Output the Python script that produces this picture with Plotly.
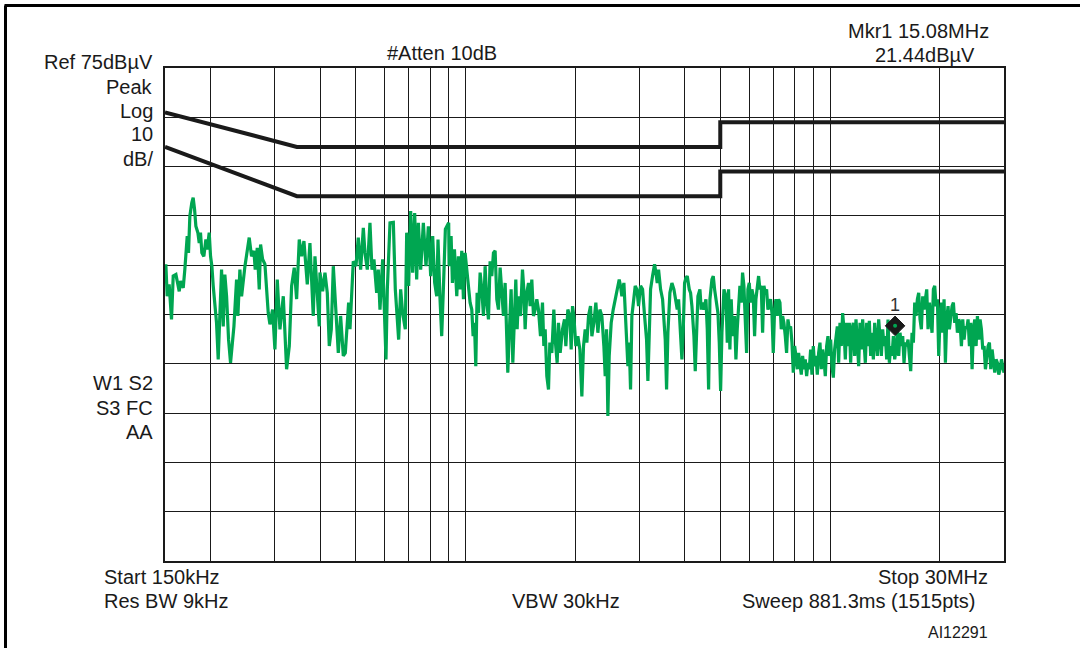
import plotly.graph_objects as go

# ---------------- data ----------------
freq_low = [0.1508, 0.1521, 0.1540, 0.1563, 0.1580, 0.1607, 0.1630, 0.1641, 0.1655, 0.1683,
            0.1700, 0.1711, 0.1726, 0.1740, 0.1755, 0.1777, 0.1792, 0.1808, 0.1823, 0.1846,
            0.1862, 0.1877, 0.1893, 0.1917, 0.1942, 0.1958, 0.1983, 0.2000, 0.2017, 0.2034,
            0.2055, 0.2077, 0.2099, 0.2144, 0.2167, 0.2189, 0.2213, 0.2241, 0.2269, 0.2289,
            0.2318, 0.2357, 0.2377, 0.2407, 0.2433, 0.2485, 0.2521, 0.2553, 0.2591, 0.2630,
            0.2652, 0.2686, 0.2720, 0.2743, 0.2778, 0.2819, 0.2879, 0.2910, 0.2959, 0.3003,
            0.3048, 0.3100, 0.3166, 0.3213, 0.3233, 0.3288, 0.3337, 0.3393, 0.3444, 0.3502,
            0.3554, 0.3607, 0.3645, 0.3684, 0.3746, 0.3786, 0.3826, 0.3867, 0.3974, 0.3991,
            0.4059, 0.4119, 0.4180, 0.4233, 0.4287, 0.4342, 0.4415, 0.4481, 0.4547, 0.4625,
            0.4684, 0.4783, 0.4824, 0.4885, 0.4926, 0.5010, 0.5084, 0.5160, 0.5248, 0.5303,
            0.5382, 0.5473, 0.5543, 0.5613, 0.5709, 0.5769, 0.5830, 0.5930, 0.6056, 0.6107,
            0.6211, 0.6343, 0.6423, 0.6560, 0.6644, 0.6728, 0.6842, 0.6901, 0.6988, 0.7077,
            0.7167, 0.7258, 0.7351, 0.7429, 0.7539, 0.7667, 0.7797, 0.7913, 0.8031, 0.8133,
            0.8237, 0.8341, 0.8411, 0.8519, 0.8609, 0.8700, 0.8811, 0.8998]
level_low = [35.2, 28.7, 31.1, 24.0, 32.8, 33.1, 30.8, 29.7, 31.8, 30.4,
             34.1, 37.2, 40.9, 37.5, 45.0, 47.7, 48.7, 46.3, 42.9, 41.6,
             39.5, 41.6, 37.5, 36.8, 40.2, 38.2, 41.6, 36.8, 34.8, 30.8,
             26.0, 23.3, 15.9, 34.1, 22.6, 33.1, 28.7, 19.9, 15.2, 18.6,
             22.6, 32.1, 24.7, 34.1, 28.7, 34.8, 38.5, 40.6, 36.8, 37.9,
             34.1, 38.5, 30.1, 39.2, 36.2, 35.2, 25.3, 23.0, 26.0, 17.9,
             32.1, 22.0, 28.7, 19.9, 13.9, 18.6, 30.8, 34.5, 28.1, 40.2,
             36.8, 39.9, 35.5, 31.1, 39.5, 30.1, 24.7, 36.8, 22.6, 33.5,
             29.7, 33.5, 29.4, 18.6, 22.0, 34.8, 24.7, 17.2, 24.7, 16.6,
             17.2, 27.4, 22.0, 31.4, 35.8, 34.8, 40.6, 34.1, 42.6, 37.5,
             34.1, 43.6, 34.1, 36.2, 29.4, 34.1, 26.0, 36.2, 15.9, 30.1,
             43.6, 43.7, 30.1, 19.9, 30.1, 25.3, 22.0, 41.6, 30.8, 46.0,
             33.5, 45.6, 32.1, 43.6, 34.1, 43.6, 34.8, 42.9, 32.8, 40.9,
             31.4, 28.7, 40.2, 28.1, 20.6, 30.1, 42.3, 43.6]

freq_mid = [0.9021, 0.9136, 0.9213, 0.9331, 0.9469, 0.9569, 0.9670, 0.9773, 0.9876, 0.9981,
            1.0108, 1.0193, 1.0301, 1.0410, 1.0498, 1.0588, 1.0677, 1.0767, 1.0858, 1.0974,
            1.1090, 1.1207, 1.1326, 1.1445, 1.1567, 1.1688, 1.1813, 1.1938, 1.2064, 1.2192,
            1.2321, 1.2451, 1.2584, 1.2716, 1.2851, 1.2987, 1.3070, 1.3180, 1.3347, 1.3489,
            1.3632, 1.3747, 1.3864, 1.3981, 1.4159, 1.4339, 1.4461, 1.4582, 1.4736, 1.4893,
            1.5051, 1.5209, 1.5371, 1.5534, 1.5698, 1.5864, 1.6066, 1.6270, 1.6408, 1.6547,
            1.6721, 1.6900, 1.7042, 1.7259, 1.7478, 1.7627, 1.7850, 1.8001, 1.8193, 1.8463,
            1.8697, 1.8856, 1.9095, 1.9337, 1.9502, 1.9667, 1.9833, 2.0087, 2.0342, 2.0599,
            2.0862, 2.1082, 2.1305, 2.1532, 2.1759, 2.2035, 2.2223, 2.2505, 2.2790, 2.3081,
            2.3374, 2.3670, 2.3973, 2.4175, 2.4379, 2.4587, 2.4794, 2.5109, 2.5429, 2.5752,
            2.6078, 2.6412, 2.6634, 2.6859, 2.7203, 2.7432, 2.7663, 2.7899, 2.8135, 2.8372,
            2.8612, 2.8916, 2.9222, 2.9531, 2.9842, 3.0224, 3.0607, 3.0998, 3.1391, 3.1656,
            3.1923, 3.2196, 3.2603, 3.3018, 3.3299, 3.3580, 3.3863, 3.4296, 3.4731, 3.5024,
            3.5320, 3.5621, 3.5921, 3.6377, 3.6842, 3.7309, 3.7623, 3.8104, 3.8425, 3.8750,
            3.9245, 3.9577, 3.9910, 4.0246, 4.0589, 4.1104, 4.1450, 4.1804, 4.2334, 4.2692,
            4.3052, 4.3419, 4.3970, 4.4341, 4.4715, 4.5097, 4.5670, 4.6054, 4.6448, 4.6839,
            4.7432, 4.7837, 4.8240, 4.8650, 4.9266, 4.9686, 5.0105, 5.0529, 5.1173, 5.1822,
            5.2260]
level_mid = [34.8, 40.9, 31.4, 38.2, 28.7, 36.8, 30.1, 37.9, 28.1, 37.5,
             33.5, 30.1, 27.4, 26.0, 20.6, 23.3, 14.5, 29.4, 25.3, 33.5,
             30.1, 24.7, 34.8, 27.4, 24.0, 35.8, 32.8, 37.5, 37.9, 28.1,
             26.0, 34.5, 30.1, 24.7, 31.4, 21.3, 13.2, 20.6, 30.1, 15.2,
             26.7, 32.1, 22.0, 28.7, 24.7, 34.1, 30.1, 22.0, 29.4, 31.4,
             26.7, 32.1, 24.7, 26.0, 28.1, 26.0, 20.6, 27.4, 18.6, 22.0,
             12.5, 9.8, 19.3, 17.2, 26.0, 19.9, 15.2, 23.3, 17.2, 22.0,
             24.0, 18.6, 26.0, 24.7, 17.9, 26.7, 24.7, 18.6, 20.6, 17.9,
             8.4, 18.6, 22.0, 19.3, 24.7, 26.7, 20.6, 23.3, 27.4, 21.3,
             26.0, 24.7, 18.6, 12.5, 22.0, 4.4, 16.6, 23.3, 26.0, 28.1,
             30.1, 32.1, 30.8, 28.7, 31.4, 26.7, 22.0, 14.5, 19.3, 9.8,
             24.7, 28.1, 30.8, 30.1, 26.7, 30.8, 30.1, 24.7, 19.9, 11.5,
             22.0, 30.1, 32.8, 35.2, 33.5, 31.4, 34.1, 30.1, 28.1, 23.3,
             19.9, 9.8, 21.3, 29.4, 31.4, 30.1, 28.7, 26.0, 28.1, 22.6,
             15.9, 22.0, 31.4, 32.4, 32.8, 30.1, 29.4, 26.7, 20.6, 13.5,
             23.3, 28.7, 30.1, 26.0, 27.4, 26.0, 28.1, 22.0, 9.8, 28.1,
             32.1, 32.8, 30.1, 28.1, 25.3, 19.3, 9.5, 21.3, 30.1, 28.7,
             19.3]

freq_high = [5.269, 5.313, 5.358, 5.404, 5.472, 5.519, 5.565, 5.612, 5.660, 5.708,
             5.756, 5.805, 5.854, 5.904, 5.953, 6.004, 6.055, 6.106, 6.158, 6.210,
             6.262, 6.315, 6.369, 6.423, 6.477, 6.532, 6.587, 6.643, 6.699, 6.756,
             6.813, 6.870, 6.929, 6.987, 7.046, 7.106, 7.166, 7.227, 7.288, 7.350,
             7.412, 7.474, 7.538, 7.601, 7.666, 7.731, 7.796, 7.862, 7.929, 7.996,
             8.063, 8.132, 8.200, 8.270, 8.340, 8.410, 8.482, 8.553, 8.626, 8.699,
             8.772, 8.847, 8.921, 8.997, 9.073, 9.150, 9.227, 9.305, 9.384, 9.463,
             9.543, 9.624, 9.706, 9.788, 9.871, 9.954, 10.038, 10.123, 10.209, 10.295,
             10.383, 10.470, 10.559, 10.648, 10.738, 10.829, 10.921, 11.013, 11.106, 11.200,
             11.295, 11.391, 11.487, 11.584, 11.682, 11.781, 11.881, 11.981, 12.083, 12.185,
             12.288, 12.392, 12.497, 12.603, 12.709, 12.817, 12.925, 13.035, 13.145, 13.256,
             13.369, 13.482, 13.596, 13.711, 13.827, 13.944, 14.062, 14.181, 14.301, 14.422,
             14.544, 14.667, 14.791, 14.916, 15.042, 15.170, 15.298, 15.428, 15.558, 15.690,
             15.823, 15.957, 16.092, 16.228, 16.365, 16.503, 16.643, 16.784, 16.926, 17.069,
             17.214, 17.359, 17.506, 17.654, 17.804, 17.954, 18.106, 18.260, 18.414, 18.570,
             18.727, 18.885, 19.045, 19.207, 19.369, 19.533, 19.698, 19.865, 20.033, 20.202,
             20.373, 20.546, 20.720, 20.895, 21.072, 21.250, 21.430, 21.611, 21.794, 21.978,
             22.164, 22.352, 22.541, 22.732, 22.924, 23.118, 23.314, 23.511, 23.710, 23.911,
             24.113, 24.317, 24.523, 24.730, 24.940, 25.151, 25.364, 25.578, 25.795, 26.013,
             26.233, 26.455, 26.679, 26.905, 27.132, 27.362, 27.593, 27.827, 28.062, 28.300,
             28.539, 28.781, 29.024, 29.270, 29.518, 30.000]
level_high = [30.1, 17.9, 28.1, 20.6, 24.7, 15.9, 22.0, 28.1, 30.8, 27.4,
              33.5, 30.8, 24.7, 17.2, 30.1, 31.4, 27.4, 30.1, 28.7, 20.6,
              28.1, 31.4, 32.8, 30.1, 30.8, 21.3, 30.8, 29.4, 30.1, 26.0,
              27.4, 28.1, 25.3, 17.2, 26.0, 28.1, 24.7, 28.1, 27.4, 22.0,
              24.7, 23.3, 20.6, 17.2, 24.0, 22.0, 22.6, 19.3, 13.2, 18.6,
              16.6, 13.9, 17.2, 15.2, 12.8, 16.6, 13.9, 15.9, 12.5, 15.2,
              13.9, 17.9, 12.8, 18.6, 14.5, 16.6, 12.8, 17.2, 19.3, 13.9,
              17.9, 15.9, 12.5, 18.6, 20.6, 16.6, 19.9, 14.5, 12.2, 17.9,
              20.6, 22.6, 15.2, 23.3, 18.6, 25.3, 22.0, 15.9, 23.3, 18.6,
              23.3, 15.2, 22.0, 23.3, 16.6, 24.0, 19.3, 14.5, 23.3, 17.9,
              24.0, 19.3, 15.2, 23.3, 18.6, 23.7, 16.6, 21.3, 15.9, 23.3,
              18.6, 16.6, 24.0, 19.3, 16.6, 22.0, 18.6, 20.6, 15.9, 24.0,
              15.2, 18.6, 16.6, 20.6, 15.9, 17.9, 22.0, 16.6, 21.3, 18.6,
              20.6, 15.2, 19.3, 18.6, 19.9, 16.6, 13.5, 21.3, 19.3, 27.4,
              24.7, 28.1, 29.4, 24.0, 22.0, 28.7, 26.0, 28.1, 30.1, 22.0,
              27.4, 24.0, 21.3, 30.1, 30.8, 26.7, 28.1, 16.6, 24.7, 27.4,
              21.3, 28.1, 15.2, 24.0, 26.7, 22.0, 24.7, 26.7, 27.4, 23.3,
              25.3, 21.3, 24.0, 23.3, 18.6, 24.0, 19.9, 22.6, 22.0, 24.0,
              18.6, 23.3, 13.9, 22.0, 24.0, 18.6, 24.7, 19.9, 24.0, 22.0,
              17.9, 18.6, 13.9, 16.6, 18.6, 19.3, 13.9, 17.9, 15.9, 13.2,
              15.9, 15.2, 12.8, 13.9, 15.9, 13.2]

limit_freq = [0.15, 0.345, 5.0, 5.0, 30.0]
limit_upper_level = [66.0, 59.0, 59.0, 64.0, 64.0]
limit_lower_level = [59.0, 49.0, 49.0, 54.0, 54.0]

marker_freq = [15.08]
marker_level = [22.7]
marker_name = ["1"]

grid_freqs = [0.2, 0.3, 0.4, 0.5, 0.6, 0.7, 0.8, 0.9, 1, 2, 3, 4, 5, 6, 7, 8, 9, 10, 20]
ref_level = 75
db_per_div = 10
n_div = 10

assert len(freq_low) == len(level_low)
assert len(freq_mid) == len(level_mid)
assert len(freq_high) == len(level_high)

freq = freq_low + freq_mid + freq_high
level = level_low + level_mid + level_high

# ---------------- layout geometry ----------------
W, H = 1080, 648
ML, MR, MT, MB = 165, 76, 68, 87
PW = W - ML - MR
PH = H - MT - MB


def px(x):
    return (x - ML) / PW


def py(y):
    return (H - MB - y) / PH


FONT = "Liberation Sans, Arial, Helvetica, sans-serif"
INK = "#1a1a1a"
GREEN = "#00a651"

fig = go.Figure()

fig.add_trace(go.Scatter(x=freq, y=level, mode="lines",
                         line=dict(color=GREEN, width=3.2), hoverinfo="skip"))
fig.add_trace(go.Scatter(x=limit_freq, y=limit_upper_level, mode="lines",
                         line=dict(color=INK, width=4), hoverinfo="skip"))
fig.add_trace(go.Scatter(x=limit_freq, y=limit_lower_level, mode="lines",
                         line=dict(color=INK, width=4), hoverinfo="skip"))
fig.add_trace(go.Scatter(x=marker_freq, y=marker_level, mode="markers+text",
                         marker=dict(symbol="diamond", size=15, color=INK,
                                     line=dict(color=INK, width=1)),
                         text=marker_name, textposition="top center",
                         textfont=dict(family=FONT, size=18, color="#333"),
                         hoverinfo="skip"))
fig.add_trace(go.Scatter(x=marker_freq, y=marker_level, mode="markers",
                         marker=dict(symbol="circle", size=4, color=GREEN),
                         hoverinfo="skip"))

bottom = ref_level - db_per_div * n_div
fig.update_xaxes(type="log", range=[-0.8239, 1.4771],
                 tickvals=grid_freqs, showticklabels=False, ticks="",
                 showgrid=True, gridcolor=INK, gridwidth=1.3,
                 showline=True, mirror=True, linecolor=INK, linewidth=2,
                 zeroline=False)
fig.update_yaxes(range=[bottom, ref_level],
                 tickvals=[bottom + db_per_div * i for i in range(1, n_div)],
                 showticklabels=False, ticks="",
                 showgrid=True, gridcolor=INK, gridwidth=1.3,
                 showline=True, mirror=True, linecolor=INK, linewidth=2,
                 zeroline=False)

ann = []


def txt(s, x, y, xanchor="left", size=20):
    ann.append(dict(text=s, x=px(x), y=py(y), xref="paper", yref="paper",
                    xanchor=xanchor, yanchor="middle", showarrow=False,
                    font=dict(family=FONT, size=size, color=INK)))


txt("Ref 75dB\u00b5V", 155, 62, "right")
txt("Peak", 155, 87, "right")
txt("Log", 155, 111, "right")
txt("10", 155, 134, "right")
txt("dB/", 155, 159, "right")
txt("W1 S2", 155, 383, "right")
txt("S3 FC", 155, 408, "right")
txt("AA", 155, 432, "right")
txt("#Atten 10dB", 442, 53, "center")
txt("Mkr1 15.08MHz", 991, 31, "right")
txt("21.44dB\u00b5V", 977, 55, "right")
txt("Start 150kHz", 102, 577, "left")
txt("Res BW 9kHz", 102, 601, "left")
txt("VBW 30kHz", 510, 601, "left")
txt("Stop 30MHz", 990, 577, "right")
txt("Sweep 881.3ms (1515pts)", 740, 601, "left")
txt("AI12291", 990, 632, "right", size=16)

shapes = [
    dict(type="line", xref="paper", yref="paper", x0=px(4.5), x1=px(1090),
         y0=py(5.5), y1=py(5.5), line=dict(color="black", width=3)),
    dict(type="line", xref="paper", yref="paper", x0=px(5.5), x1=px(5.5),
         y0=py(5.5), y1=py(660), line=dict(color="black", width=3)),
]

fig.update_layout(width=W, height=H, margin=dict(l=ML, r=MR, t=MT, b=MB),
                  paper_bgcolor="white", plot_bgcolor="white",
                  showlegend=False, annotations=ann, shapes=shapes,
                  font=dict(family=FONT), hovermode=False)

fig.write_html("out.html",
               config={"displayModeBar": False},
               post_script="document.body.style.margin='0';"
                           "document.body.style.padding='0';"
                           "document.body.style.overflow='hidden';")
